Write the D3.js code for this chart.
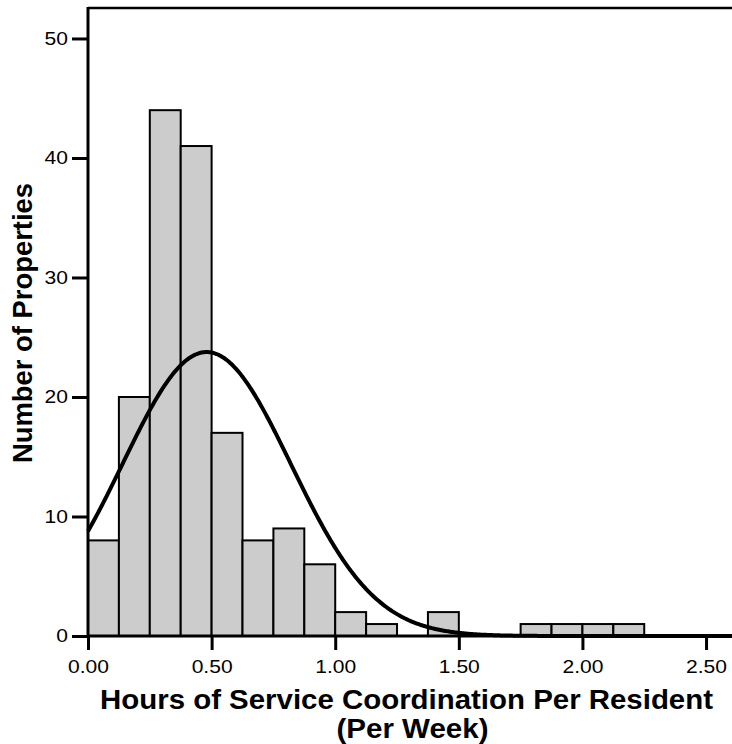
<!DOCTYPE html>
<html>
<head>
<meta charset="utf-8">
<script src="https://cdn.jsdelivr.net/npm/d3@7"></script>
<style>
  body { margin: 0; background: #fff; }
  svg { display: block; font-family: "Liberation Sans", Arial, sans-serif; }
</style>
</head>
<body>
<div id="chart"></div>
<script>
// Chart size
const width = 732, height = 744;

// Histogram bins (hours per resident per week) and counts
const binStarts = [0, 0.125, 0.25, 0.375, 0.5, 0.625, 0.75, 0.875, 1.0, 1.125, 1.25, 1.375, 1.5, 1.625, 1.75, 1.875, 2.0, 2.125];
const binCounts = [8, 20, 44, 41, 17, 8, 9, 6, 2, 1, 0, 2, 0, 0, 1, 1, 1, 1];
const binWidth = 0.125;

// Fitted normal curve parameters
const curveMean = 0.48;
const curveSd = 0.34;
const curveN = 162;

// Tick values
const xTicks = [0, 0.5, 1.0, 1.5, 2.0, 2.5];
const yTicks = [0, 10, 20, 30, 40, 50];

const margin = {top: 8, right: 0, bottom: 108, left: 88};
const stretch = 1.17; // the original text is a bit wider than Liberation Sans

const svg = d3.select("#chart").append("svg")
  .attr("width", width)
  .attr("height", height);

const x = d3.scaleLinear()
  .domain([0, 2.605])
  .range([margin.left, width - margin.right]);

const y = d3.scaleLinear()
  .domain([0, 52.55])
  .range([height - margin.bottom, margin.top]);

// Bars
svg.append("g")
  .selectAll("rect")
  .data(binStarts.map((s, i) => ({x0: s, x1: s + binWidth, n: binCounts[i]})).filter(d => d.n > 0))
  .enter()
  .append("rect")
  .attr("x", d => x(d.x0))
  .attr("y", d => y(d.n))
  .attr("width", d => x(d.x1) - x(d.x0))
  .attr("height", d => y(0) - y(d.n))
  .attr("fill", "#cccccc")
  .attr("stroke", "#000")
  .attr("stroke-width", 2);

// Normal curve
const curveXs = d3.range(0, 2.606, 0.005);
const curvePts = curveXs.map(v => {
  const z = (v - curveMean) / curveSd;
  return [v, curveN * binWidth / (curveSd * Math.sqrt(2 * Math.PI)) * Math.exp(-0.5 * z * z)];
});

svg.append("path")
  .datum(curvePts)
  .attr("fill", "none")
  .attr("stroke", "#000")
  .attr("stroke-width", 4)
  .attr("d", d3.line().x(d => x(d[0])).y(d => y(d[1])));

// Frame: top line
svg.append("line")
  .attr("x1", margin.left).attr("x2", width)
  .attr("y1", margin.top).attr("y2", margin.top)
  .attr("stroke", "#000").attr("stroke-width", 2.5);

// Axes
const yAxis = svg.append("g")
  .attr("transform", `translate(${margin.left},0)`)
  .call(d3.axisLeft(y).tickValues(yTicks).tickFormat(d3.format("d")).tickSize(16).tickPadding(4));

const xAxis = svg.append("g")
  .attr("transform", `translate(0,${y(0)})`)
  .call(d3.axisBottom(x).tickValues(xTicks).tickFormat(d3.format(".2f")).tickSize(14).tickPadding(10));

[yAxis, xAxis].forEach(ax => {
  ax.select(".domain").attr("stroke-width", 3);
  ax.selectAll(".tick line").attr("stroke-width", 3);
  ax.selectAll(".tick text")
    .attr("font-family", "Liberation Sans, Arial, sans-serif")
    .attr("font-size", 18)
    .attr("fill", "#000")
    .attr("transform", `scale(${stretch},1)`);
});
yAxis.selectAll(".tick text").attr("x", -20 / stretch);
xAxis.select(".domain").attr("d", `M${margin.left},0H${width}`);
yAxis.select(".domain").attr("d", `M0,${y(0)}V${margin.top - 1}`);

// Axis titles
svg.append("text")
  .attr("x", 406.5)
  .attr("y", 709)
  .attr("text-anchor", "middle")
  .attr("font-weight", "bold")
  .attr("font-size", 27)
  .attr("textLength", 613)
  .attr("lengthAdjust", "spacingAndGlyphs")
  .text("Hours of Service Coordination Per Resident");

svg.append("text")
  .attr("x", 412.5)
  .attr("y", 738)
  .attr("text-anchor", "middle")
  .attr("font-weight", "bold")
  .attr("font-size", 27)
  .attr("textLength", 152)
  .attr("lengthAdjust", "spacingAndGlyphs")
  .text("(Per Week)");

svg.append("text")
  .attr("transform", "translate(32,323) rotate(-90)")
  .attr("text-anchor", "middle")
  .attr("font-weight", "bold")
  .attr("font-size", 27)
  .attr("textLength", 280)
  .attr("lengthAdjust", "spacingAndGlyphs")
  .text("Number of Properties");
</script>
</body>
</html>
